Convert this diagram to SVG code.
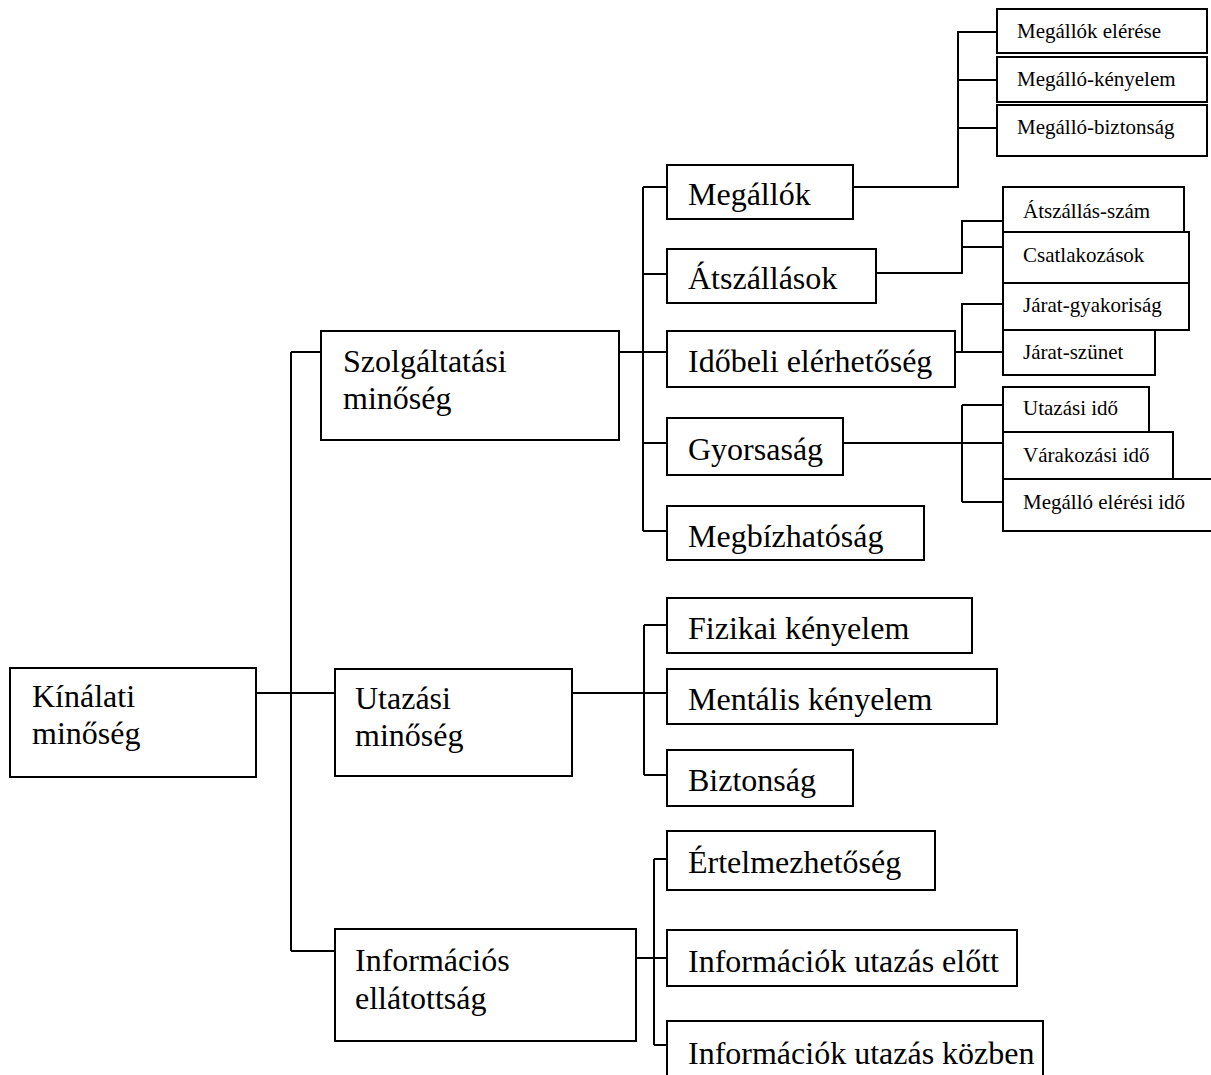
<svg xmlns="http://www.w3.org/2000/svg" width="1211" height="1075" viewBox="0 0 1211 1075">
<style>
rect{fill:#fff;stroke:#000;stroke-width:2}
.c{fill:none;stroke:#000;stroke-width:2}
text{font-family:"Liberation Serif","Times New Roman",serif;fill:#000}
.L{font-size:32px}
.S{font-size:21px}
</style>
<rect x="0" y="0" width="1211" height="1075" style="fill:#fff;stroke:none"/>
<g id="connectors">
<path class="c" d="M257 693H335M291 352V951M291 352H321M291 951H335"/>
<path class="c" d="M619 352H667M643 187V531M643 187H667M643 274H667M643 443H667M643 531H667"/>
<path class="c" d="M853 187H958V32H997M958 80H997M958 128H997"/>
<path class="c" d="M876 273H962V221H1003M962 247H1003"/>
<path class="c" d="M955 352H1003M962 352V304H1003"/>
<path class="c" d="M843 443H1003M962 405V502M962 405H1003M962 502H1003"/>
<path class="c" d="M572 693H667M644 625V775M644 625H667M644 775H667"/>
<path class="c" d="M637 958H667M654 859V1045M654 859H667M654 1045H667"/>
</g>
<g id="n-kinalati"><rect x="10" y="668" width="246" height="109"/><text class="L" x="32" y="707">Kínálati</text><text class="L" x="32" y="744">minőség</text></g>
<g id="n-szolg"><rect x="321" y="331" width="298" height="109"/><text class="L" x="343" y="372">Szolgáltatási</text><text class="L" x="343" y="409">minőség</text></g>
<g id="n-utazasi"><rect x="335" y="669" width="237" height="107"/><text class="L" x="355" y="709">Utazási</text><text class="L" x="355" y="746">minőség</text></g>
<g id="n-info"><rect x="335" y="929" width="301" height="112"/><text class="L" x="355" y="971">Információs</text><text class="L" x="355" y="1009">ellátottság</text></g>
<g id="n-megallok"><rect x="667" y="165" width="186" height="54"/><text class="L" x="688" y="205">Megállók</text></g>
<g id="n-atszallasok"><rect x="667" y="249" width="209" height="54"/><text class="L" x="688" y="289">Átszállások</text></g>
<g id="n-idobeli"><rect x="667" y="331" width="288" height="56"/><text class="L" x="688" y="372">Időbeli elérhetőség</text></g>
<g id="n-gyorsasag"><rect x="667" y="418" width="176" height="57"/><text class="L" x="688" y="460">Gyorsaság</text></g>
<g id="n-megbizhatosag"><rect x="667" y="506" width="257" height="54"/><text class="L" x="688" y="547">Megbízhatóság</text></g>
<g id="n-fizikai"><rect x="667" y="598" width="305" height="55"/><text class="L" x="688" y="639">Fizikai kényelem</text></g>
<g id="n-mentalis"><rect x="667" y="669" width="330" height="55"/><text class="L" x="688" y="710">Mentális kényelem</text></g>
<g id="n-biztonsag"><rect x="667" y="750" width="186" height="56"/><text class="L" x="688" y="791">Biztonság</text></g>
<g id="n-ertelmezhetoseg"><rect x="667" y="831" width="268" height="59"/><text class="L" x="688" y="873">Értelmezhetőség</text></g>
<g id="n-elott"><rect x="667" y="930" width="350" height="56"/><text class="L" x="688" y="972">Információk utazás előtt</text></g>
<g id="n-kozben"><rect x="667" y="1021" width="376" height="60"/><text class="L" x="688" y="1064">Információk utazás közben</text></g>
<g id="n-megallok-elerese"><rect x="997" y="9" width="210" height="44"/><text class="S" x="1017" y="38">Megállók elérése</text></g>
<g id="n-megallo-kenyelem"><rect x="997" y="57" width="210" height="45"/><text class="S" x="1017" y="86">Megálló-kényelem</text></g>
<g id="n-megallo-biztonsag"><rect x="997" y="105" width="210" height="51"/><text class="S" x="1017" y="134">Megálló-biztonság</text></g>
<g id="n-atszallas-szam"><rect x="1003" y="187" width="181" height="45"/><text class="S" x="1023" y="218">Átszállás-szám</text></g>
<g id="n-csatlakozasok"><rect x="1003" y="232" width="186" height="51"/><text class="S" x="1023" y="262">Csatlakozások</text></g>
<g id="n-jarat-gyakorisag"><rect x="1003" y="283" width="186" height="47"/><text class="S" x="1023" y="312">Járat-gyakoriság</text></g>
<g id="n-jarat-szunet"><rect x="1003" y="330" width="152" height="45"/><text class="S" x="1023" y="359">Járat-szünet</text></g>
<g id="n-utazasi-ido"><rect x="1003" y="387" width="146" height="45"/><text class="S" x="1023" y="415">Utazási idő</text></g>
<g id="n-varakozasi-ido"><rect x="1003" y="432" width="170" height="47"/><text class="S" x="1023" y="462">Várakozási idő</text></g>
<g id="n-megallo-elerasi-ido"><rect x="1003" y="479" width="215" height="52"/><text class="S" x="1023" y="509">Megálló elérési idő</text></g>
</svg>
